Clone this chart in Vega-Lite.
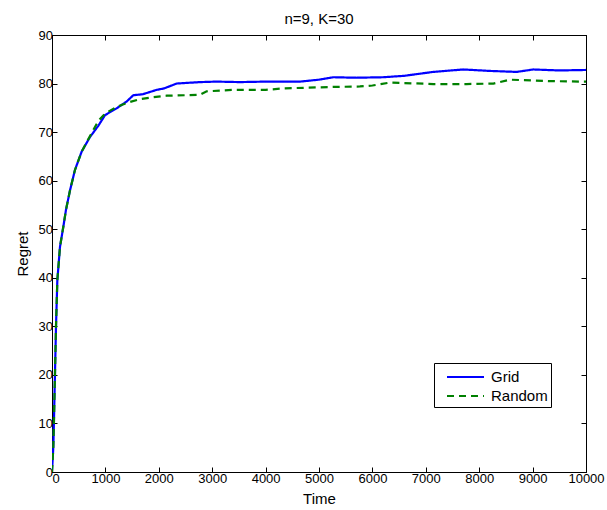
{
  "$schema": "https://vega.github.io/schema/vega-lite/v6.json",
  "autosize": "none",
  "width": 534,
  "height": 437,
  "padding": {"left": 52, "top": 35, "right": 21, "bottom": 38},
  "background": "white",
  "config": {
    "font": "Liberation Sans",
    "view": {"stroke": "black", "strokeWidth": 1},
    "axis": {"grid": false, "domainColor": "black", "tickColor": "black", "labelColor": "black", "titleColor": "black", "labelFont": "Liberation Sans", "titleFont": "Liberation Sans", "labelFontSize": 13, "titleFontSize": 15, "titleFontWeight": "normal", "tickSize": -5}
  },
  "title": {"text": "n=9, K=30", "fontSize": 15, "fontWeight": "normal", "font": "Liberation Sans", "color": "black", "offset": 2},
  "data": {"values": [
    {"t": 0, "r": 0, "s": "Grid"},
    {"t": 25, "r": 5.2, "s": "Grid"},
    {"t": 37, "r": 10.7, "s": "Grid"},
    {"t": 56, "r": 20.3, "s": "Grid"},
    {"t": 75, "r": 30, "s": "Grid"},
    {"t": 100, "r": 39.5, "s": "Grid"},
    {"t": 150, "r": 46.4, "s": "Grid"},
    {"t": 212, "r": 50.5, "s": "Grid"},
    {"t": 262, "r": 54, "s": "Grid"},
    {"t": 337, "r": 58, "s": "Grid"},
    {"t": 430, "r": 62.2, "s": "Grid"},
    {"t": 556, "r": 66, "s": "Grid"},
    {"t": 712, "r": 69, "s": "Grid"},
    {"t": 867, "r": 71.3, "s": "Grid"},
    {"t": 993, "r": 73.5, "s": "Grid"},
    {"t": 1211, "r": 74.9, "s": "Grid"},
    {"t": 1398, "r": 76.3, "s": "Grid"},
    {"t": 1523, "r": 77.6, "s": "Grid"},
    {"t": 1700, "r": 77.8, "s": "Grid"},
    {"t": 1960, "r": 78.7, "s": "Grid"},
    {"t": 2100, "r": 79.0, "s": "Grid"},
    {"t": 2334, "r": 80.0, "s": "Grid"},
    {"t": 2772, "r": 80.3, "s": "Grid"},
    {"t": 3084, "r": 80.4, "s": "Grid"},
    {"t": 3520, "r": 80.3, "s": "Grid"},
    {"t": 4000, "r": 80.4, "s": "Grid"},
    {"t": 4644, "r": 80.4, "s": "Grid"},
    {"t": 5000, "r": 80.8, "s": "Grid"},
    {"t": 5268, "r": 81.3, "s": "Grid"},
    {"t": 5700, "r": 81.2, "s": "Grid"},
    {"t": 6205, "r": 81.3, "s": "Grid"},
    {"t": 6600, "r": 81.6, "s": "Grid"},
    {"t": 7141, "r": 82.4, "s": "Grid"},
    {"t": 7703, "r": 82.9, "s": "Grid"},
    {"t": 8200, "r": 82.6, "s": "Grid"},
    {"t": 8702, "r": 82.4, "s": "Grid"},
    {"t": 9013, "r": 82.9, "s": "Grid"},
    {"t": 9500, "r": 82.7, "s": "Grid"},
    {"t": 10000, "r": 82.8, "s": "Grid"},
    {"t": 0, "r": 0, "s": "Random"},
    {"t": 25, "r": 5.2, "s": "Random"},
    {"t": 37, "r": 10.7, "s": "Random"},
    {"t": 56, "r": 20.3, "s": "Random"},
    {"t": 75, "r": 30, "s": "Random"},
    {"t": 100, "r": 39.5, "s": "Random"},
    {"t": 150, "r": 46.4, "s": "Random"},
    {"t": 212, "r": 50.5, "s": "Random"},
    {"t": 262, "r": 54, "s": "Random"},
    {"t": 337, "r": 58, "s": "Random"},
    {"t": 430, "r": 62.2, "s": "Random"},
    {"t": 556, "r": 66, "s": "Random"},
    {"t": 712, "r": 69.2, "s": "Random"},
    {"t": 867, "r": 72.3, "s": "Random"},
    {"t": 993, "r": 73.8, "s": "Random"},
    {"t": 1211, "r": 75.2, "s": "Random"},
    {"t": 1398, "r": 76.0, "s": "Random"},
    {"t": 1648, "r": 76.8, "s": "Random"},
    {"t": 1900, "r": 77.2, "s": "Random"},
    {"t": 2147, "r": 77.5, "s": "Random"},
    {"t": 2500, "r": 77.6, "s": "Random"},
    {"t": 2770, "r": 77.7, "s": "Random"},
    {"t": 2897, "r": 78.4, "s": "Random"},
    {"t": 3396, "r": 78.7, "s": "Random"},
    {"t": 4000, "r": 78.7, "s": "Random"},
    {"t": 4332, "r": 79.0, "s": "Random"},
    {"t": 5268, "r": 79.3, "s": "Random"},
    {"t": 5767, "r": 79.4, "s": "Random"},
    {"t": 6000, "r": 79.6, "s": "Random"},
    {"t": 6330, "r": 80.2, "s": "Random"},
    {"t": 7141, "r": 79.9, "s": "Random"},
    {"t": 7765, "r": 79.9, "s": "Random"},
    {"t": 8265, "r": 80.0, "s": "Random"},
    {"t": 8577, "r": 80.8, "s": "Random"},
    {"t": 9326, "r": 80.5, "s": "Random"},
    {"t": 9950, "r": 80.4, "s": "Random"},
    {"t": 10000, "r": 80.4, "s": "Random"}
  ]},
  "layer": [
    {
      "mark": {"type": "line", "strokeWidth": 2.2, "clip": true},
      "encoding": {
        "x": {"field": "t", "type": "quantitative", "scale": {"domain": [0, 10000], "nice": false}, "axis": {"orient": "bottom", "title": "Time", "tickCount": 10, "format": "d", "labelPadding": 5, "titlePadding": 6, "labelFlush": false, "labelAlign": {"expr": "datum.value == 0 ? 'left' : 'center'"}}},
        "y": {"field": "r", "type": "quantitative", "scale": {"domain": [0, 90], "nice": false}, "axis": {"orient": "left", "title": "Regret", "values": [0,10,20,30,40,50,60,70,80,90], "labelPadding": 4.5, "titlePadding": 8, "labelFlush": false}},
        "color": {"field": "s", "type": "nominal", "scale": {"domain": ["Grid", "Random"], "range": ["#0000ff", "#008000"]}, "legend": {"title": null, "orient": "none", "legendX": 382, "legendY": 328, "direction": "vertical", "symbolType": "M-0.1,0L3.6,0", "symbolSize": 400, "symbolStrokeWidth": 2, "labelFontSize": 15, "labelFont": "Liberation Sans", "labelColor": "black", "labelLimit": 0, "strokeColor": "black", "fillColor": "white", "padding": 3, "rowPadding": 0, "labelOffset": 32}},
        "strokeDash": {"field": "s", "type": "nominal", "scale": {"domain": ["Grid", "Random"], "range": [[1, 0], [7, 5]]}, "legend": {"title": null, "orient": "none", "legendX": 382, "legendY": 328, "direction": "vertical", "symbolType": "M-0.1,0L3.6,0", "symbolSize": 400, "symbolStrokeWidth": 2, "labelFontSize": 15, "labelFont": "Liberation Sans", "labelColor": "black", "labelLimit": 0, "strokeColor": "black", "fillColor": "white", "padding": 3, "rowPadding": 0, "labelOffset": 32}}
      }
    },
    {
      "mark": {"type": "line", "opacity": 0},
      "encoding": {
        "detail": {"field": "s"},
        "x": {"field": "t", "type": "quantitative", "scale": {"domain": [0, 10000], "nice": false}, "axis": {"orient": "top", "title": null, "labels": false, "tickCount": 10}},
        "y": {"field": "r", "type": "quantitative", "scale": {"domain": [0, 90], "nice": false}, "axis": {"orient": "right", "title": null, "labels": false, "values": [0,10,20,30,40,50,60,70,80,90]}}
      }
    }
  ],
  "resolve": {"axis": {"x": "independent", "y": "independent"}}
}
